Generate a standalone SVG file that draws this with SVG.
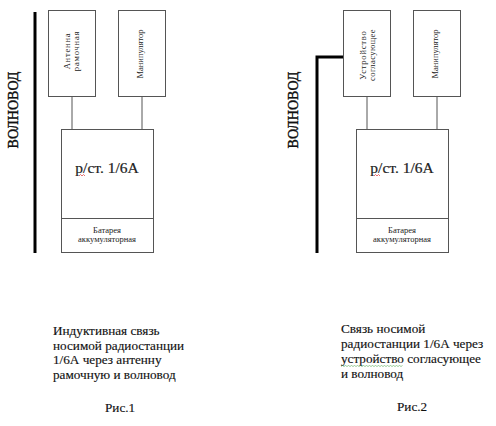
<svg xmlns="http://www.w3.org/2000/svg" width="496" height="426" viewBox="0 0 496 426">
<style>
.box{fill:#fff;stroke:#555;stroke-width:1}
.wire{stroke:#555;stroke-width:1;fill:none}
.thick{stroke:#000;stroke-width:3;fill:none}
.s{font-family:"Liberation Serif","Times New Roman",serif;fill:#222}
.sm{font-size:8.5px}
.mid{text-anchor:middle}
.big{font-size:15.5px;stroke:#222;stroke-width:0.2}
.wg{font-size:14px;fill:#111;stroke:#111;stroke-width:0.4}
.cap{font-family:"Liberation Serif","Times New Roman",serif;font-size:13.2px;fill:#111;stroke:#111;stroke-width:0.15}
</style>
<rect width="496" height="426" fill="#fff"/>
<g id="connectors">
<path class="thick" d="M35,12 V253"/>
<path class="thick" d="M317,253 V57 H343"/>
<path class="wire" d="M72,97 V129 M142,97 V129"/>
<path class="wire" d="M367,97 V129 M437,97 V129"/>
</g>
<g id="waveguide1"><text class="s wg mid" transform="translate(18,110) rotate(-90)">ВОЛНОВОД</text></g>
<g id="antenna1">
<rect class="box" x="48.5" y="10.5" width="47" height="86"/>
<text class="s sm mid" transform="translate(70,51) rotate(-90)" letter-spacing="0.8">Антенна</text>
<text class="s sm mid" transform="translate(79,51) rotate(-90)" letter-spacing="0.8">рамочная</text>
</g>
<g id="manip1">
<rect class="box" x="118.5" y="10.5" width="47" height="86"/>
<text class="s sm mid" transform="translate(143,54) rotate(-90)">Манипулятор</text>
</g>
<g id="radio1">
<rect class="box" x="61.5" y="129.5" width="92" height="123"/>
<line class="wire" x1="61.5" y1="218.5" x2="153.5" y2="218.5"/>
<text class="s big mid" x="107" y="173">р/ст. 1/6А</text>
<path d="M79,176 l1.5,-1.5 l1.5,1.5 l1.5,-1.5 l1.5,1.5" stroke="#d33" stroke-width="0.7" fill="none"/>
<text class="s sm mid" x="107" y="233">Батарея</text>
<text class="s sm mid" x="107" y="242">аккумуляторная</text>
</g>
<g id="waveguide2"><text class="s wg mid" transform="translate(298,110) rotate(-90)">ВОЛНОВОД</text></g>
<g id="matcher2">
<rect class="box" x="343.5" y="10.5" width="47" height="86"/>
<text class="s sm mid" transform="translate(366,55) rotate(-90)" letter-spacing="0.8">Устройство</text>
<text class="s sm mid" transform="translate(375,55) rotate(-90)" letter-spacing="0.4">согласующее</text>
</g>
<g id="manip2">
<rect class="box" x="413.5" y="10.5" width="47" height="86"/>
<text class="s sm mid" transform="translate(438,54) rotate(-90)">Манипулятор</text>
</g>
<g id="radio2">
<rect class="box" x="356.5" y="129.5" width="92" height="123"/>
<line class="wire" x1="356.5" y1="218.5" x2="448.5" y2="218.5"/>
<text class="s big mid" x="402" y="173">р/ст. 1/6А</text>
<path d="M374,176 l1.5,-1.5 l1.5,1.5 l1.5,-1.5 l1.5,1.5" stroke="#d33" stroke-width="0.7" fill="none"/>
<text class="s sm mid" x="402" y="233">Батарея</text>
<text class="s sm mid" x="402" y="242">аккумуляторная</text>
</g>
<g id="caption1">
<text class="cap" x="53" y="335">Индуктивная связь</text>
<text class="cap" x="53" y="349.5">носимой радиостанции</text>
<text class="cap" x="53" y="364">1/6А через антенну</text>
<text class="cap" x="53" y="378.5">рамочную и волновод</text>
<text class="cap" x="105" y="412">Рис.1</text>
</g>
<g id="caption2">
<text class="cap" x="341" y="333">Связь носимой</text>
<text class="cap" x="341" y="348">радиостанции 1/6А через</text>
<text class="cap" x="341" y="363">устройство согласующее</text>
<text class="cap" x="341" y="378">и волновод</text>
<path d="M341,366.5 l1.5,-1 l1.5,1 l1.5,-1 l1.5,1 l1.5,-1 l1.5,1 l1.5,-1 l1.5,1 l1.5,-1 l1.5,1 l1.5,-1 l1.5,1 l1.5,-1 l1.5,1 l1.5,-1 l1.5,1 l1.5,-1 l1.5,1 l1.5,-1 l1.5,1 l1.5,-1 l1.5,1 l1.5,-1 l1.5,1 l1.5,-1 l1.5,1 l1.5,-1 l1.5,1 l1.5,-1 l1.5,1 l1.5,-1 l1.5,1 l1.5,-1 l1.5,1 l1.5,-1 l1.5,1 l1.5,-1 l1.5,1 l1.5,-1 l1.5,1 l1.5,-1" stroke="#5a5" stroke-width="0.6" fill="none"/>
<text class="cap" x="397" y="411">Рис.2</text>
</g>
</svg>
